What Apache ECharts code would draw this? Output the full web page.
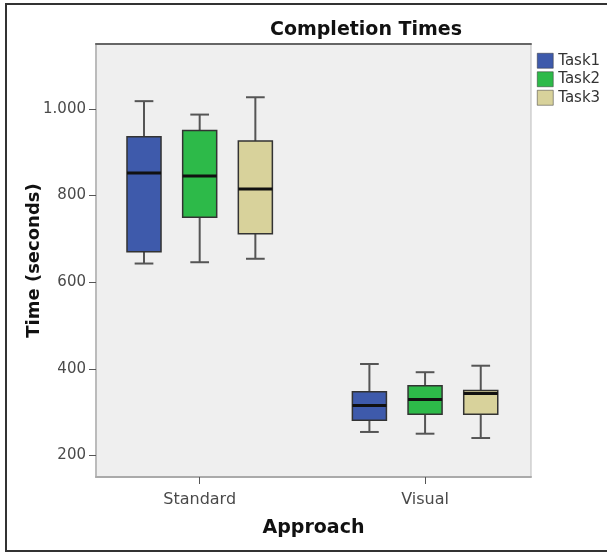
<!DOCTYPE html>
<html>
<head>
<meta charset="utf-8">
<script src="https://cdn.jsdelivr.net/npm/echarts@6/dist/echarts.min.js"></script>
<style>
html, body { margin: 0; padding: 0; background: #fff; }
#chart { width: 607px; height: 554px; }
</style>
</head>
<body>
<div id="chart"></div>
<script>
// categories and series: [min, Q1, median, Q3, max] per approach
var approaches = ['Standard', 'Visual'];
var tasks = ['Task1', 'Task2', 'Task3'];
var task1 = [[643, 670, 852, 936, 1018], [254, 281, 315, 347, 411]];
var task2 = [[646, 750, 845, 950, 987], [250, 295, 329, 361, 392]];
var task3 = [[654, 712, 815, 926, 1027], [240, 295, 343, 350, 407]];
var yTicks = [200, 400, 600, 800, 1000];
var xTicks = [0, 1];

var colors = ['#3e5aab', '#2dba49', '#d8d29b'];
var font = 'DejaVu Sans, Verdana, sans-serif';

/*
	每个任务画一组箱线
	t: 任务序号 (0,1,2), 决定在组内的偏移
*/
function boxRender(t) {
	return function (params, api) {
		var unit = api.size([1, 0])[0];
		var w = unit * 0.151;
		var cap = w * 0.55;
		var x = api.coord([api.value(0), 0])[0] + (t - 1) * unit * 0.247;
		var y = function (d) {
			return api.coord([api.value(0), api.value(d)])[1];
		};
		var lo = y(1), q1 = y(2), md = y(3), q3 = y(4), hi = y(5);
		var ws = { stroke: '#555', lineWidth: 2 };
		return {
			type: 'group',
			children: [
				{ type: 'line', shape: { x1: x, y1: hi, x2: x, y2: q3 }, style: ws },
				{ type: 'line', shape: { x1: x, y1: q1, x2: x, y2: lo }, style: ws },
				{ type: 'line', shape: { x1: x - cap / 2, y1: hi, x2: x + cap / 2, y2: hi }, style: ws },
				{ type: 'line', shape: { x1: x - cap / 2, y1: lo, x2: x + cap / 2, y2: lo }, style: ws },
				{ type: 'rect', shape: { x: x - w / 2, y: q3, width: w, height: q1 - q3 },
					style: { fill: colors[t], stroke: '#333', lineWidth: 1.5 } },
				{ type: 'line', shape: { x1: x - w / 2, y1: md, x2: x + w / 2, y2: md },
					style: { stroke: '#111', lineWidth: 3 } }
			]
		};
	};
}

function toData(list) {
	return list.map(function (v, i) { return [xTicks[i]].concat(v); });
}

var chart = echarts.init(document.getElementById('chart'));

var option = {
	animation: false,
	backgroundColor: '#fff',
	title: {
		text: 'Completion Times',
		left: 361,
		top: 15,
		textAlign: 'center',
		textStyle: { fontFamily: font, fontSize: 19, fontWeight: 'bold', color: '#111', lineHeight: 20 }
	},
	legend: {
		left: 532,
		top: 48,
		orient: 'vertical',
		itemWidth: 16,
		itemHeight: 15,
		itemGap: 3,
		icon: 'rect',
		data: tasks,
		itemStyle: { borderColor: '#333', borderWidth: 0.5 },
		textStyle: { fontFamily: font, fontSize: 15, color: '#333', lineHeight: 15 }
	},
	grid: {
		left: 96,
		right: 76,
		top: 44,
		bottom: 77,
		show: true,
		backgroundColor: '#efefef',
		borderColor: '#bbb',
		borderWidth: 1
	},
	xAxis: [{
		type: 'value',
		min: -0.46,
		max: 1.47,
		name: 'Approach',
		nameLocation: 'middle',
		nameGap: 42,
		nameTextStyle: { fontFamily: font, fontSize: 19, fontWeight: 'bold', color: '#111' },
		splitLine: { show: false },
		axisLine: { show: true, onZero: false, lineStyle: { color: '#aaa', width: 2 } },
		axisTick: { show: true, length: 7, customValues: xTicks, lineStyle: { color: '#555' } },
		axisLabel: {
			fontFamily: font, fontSize: 16, color: '#4a4a4a', margin: 15,
			customValues: xTicks,
			formatter: function (v) { return approaches[v]; }
		}
	}, {
		type: 'value',
		min: -0.46,
		max: 1.47,
		position: 'top',
		splitLine: { show: false },
		axisLine: { show: true, onZero: false, lineStyle: { color: '#666', width: 2 } },
		axisTick: { show: false },
		axisLabel: { show: false }
	}],
	yAxis: {
		type: 'value',
		min: 150,
		max: 1150,
		interval: 50,
		name: 'Time (seconds)',
		nameLocation: 'middle',
		nameGap: 53,
		nameMoveOverlap: false,
		nameTextStyle: { fontFamily: font, fontSize: 18, fontWeight: 'bold', color: '#111' },
		splitLine: { show: false },
		axisLine: { show: true, onZero: false, lineStyle: { color: '#bbb', width: 2 } },
		axisTick: { show: true, length: 7, customValues: yTicks, lineStyle: { color: '#555' } },
		axisLabel: {
			fontFamily: font, fontSize: 15, color: '#4a4a4a', margin: 10,
			customValues: yTicks,
			formatter: function (v) {
				return String(v).replace(/\B(?=(\d{3})+$)/g, '.');
			}
		}
	},
	graphic: [{
		type: 'rect',
		shape: { x: 6, y: 4, width: 620, height: 547 },
		style: { fill: null, stroke: '#333', lineWidth: 2 },
		silent: true
	}],
	series: [task1, task2, task3].map(function (d, t) {
		return {
			name: tasks[t],
			type: 'custom',
			renderItem: boxRender(t),
			itemStyle: { color: colors[t] },
			encode: { x: 0, y: [1, 2, 3, 4, 5] },
			data: toData(d)
		};
	})
};

chart.setOption(option);
</script>
</body>
</html>
